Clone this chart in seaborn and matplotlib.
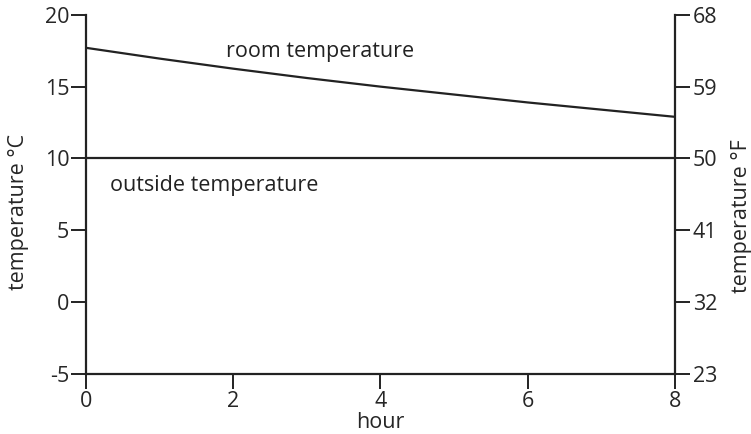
import pandas as pd
import matplotlib
matplotlib.use("Agg")
import matplotlib.pyplot as plt
import seaborn as sns

# values
hours = [0, 1, 2, 3, 4, 5, 6, 7, 8]
room_temp_c = [17.7, 16.95, 16.25, 15.6, 15.0, 14.45, 13.9, 13.4, 12.9]
outside_temp_c = [10, 10, 10, 10, 10, 10, 10, 10, 10]
celsius_ticks = [-5, 0, 5, 10, 15, 20]
fahrenheit_ticks = [23, 32, 41, 50, 59, 68]
x_ticks = [0, 2, 4, 6, 8]

sns.set_style("ticks")
plt.rcParams['font.family'] = ['Open Sans', 'DejaVu Sans']
plt.rcParams['axes.unicode_minus'] = False

FS = 15.5
INK = '#222222'

df = pd.DataFrame({'hour': hours, 'room': room_temp_c, 'outside': outside_temp_c})

fig = plt.figure(figsize=(7.51, 4.34), dpi=100)
ax = fig.add_axes([0.1145, 0.138, 0.784, 0.828])

line_kw = dict(color=INK, linewidth=1.6)
sns.lineplot(data=df, x='hour', y='room', ax=ax, **line_kw)
sns.lineplot(data=df, x='hour', y='outside', ax=ax, **line_kw)

ax.set_xlim(0, 8)
ax.set_ylim(-5, 20)
ax.set_xticks(x_ticks)
ax.set_yticks(celsius_ticks)
ax.set_xlabel('hour', fontsize=FS, labelpad=0)
ax.set_ylabel('temperature °C', fontsize=FS, labelpad=11)
ax.yaxis.label.set_y(0.45)
ax.tick_params(axis='both', labelsize=FS, width=1.4, color=INK)
ax.tick_params(axis='y', length=11, pad=1)
ax.tick_params(axis='x', length=11, pad=1)
for side in ['left', 'bottom']:
    ax.spines[side].set_linewidth(1.6)
    ax.spines[side].set_color(INK)
ax.spines['top'].set_visible(False)
ax.spines['right'].set_visible(False)

ax2 = ax.twinx()
ax2.set_ylim(23, 68)
ax2.set_yticks(fahrenheit_ticks)
ax2.set_ylabel('temperature °F', fontsize=FS, rotation=90, labelpad=10)
ax2.yaxis.label.set_y(0.44)
ax2.tick_params(axis='y', labelsize=FS, length=11, width=1.4, pad=2, color=INK)
ax2.spines['right'].set_linewidth(1.6)
ax2.spines['right'].set_color(INK)
for side in ['top', 'left', 'bottom']:
    ax2.spines[side].set_visible(False)

ax.text(1.9, 17.45, 'room temperature', fontsize=FS, va='center', ha='left', color=INK)
ax.text(0.33, 8.15, 'outside temperature', fontsize=FS, va='center', ha='left', color=INK)

fig.savefig('out.png', dpi=100, facecolor='white')
plt.close(fig)
